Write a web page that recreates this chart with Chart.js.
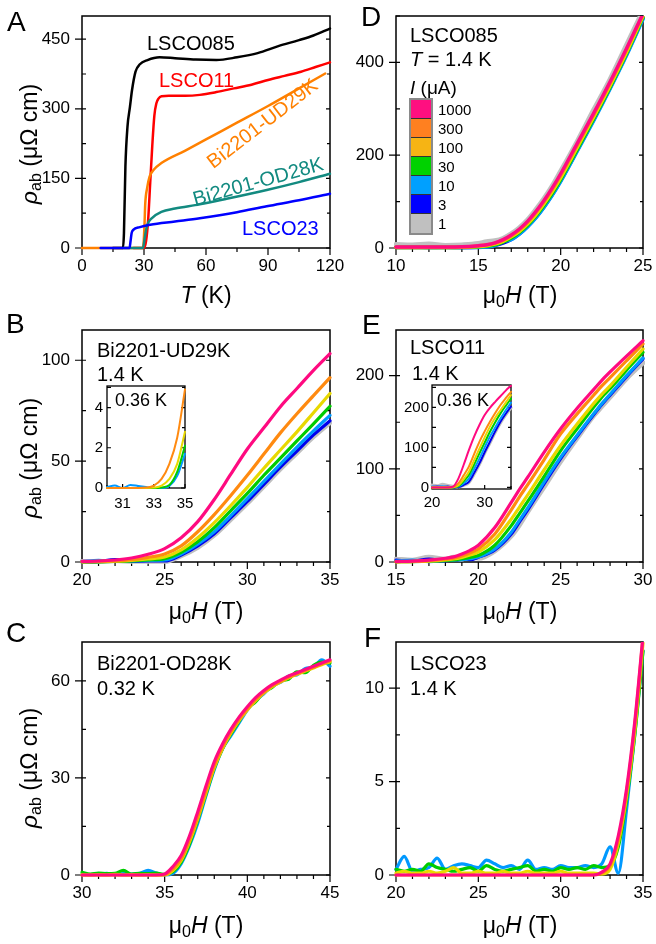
<!DOCTYPE html>
<html>
<head>
<meta charset="utf-8">
<script src="https://cdn.jsdelivr.net/npm/chart.js@4.4.1/dist/chart.umd.min.js"></script>
<style>
  body { margin: 0; background: #fff; }
  #fig { position: relative; width: 656px; height: 944px; overflow: hidden;
         font-family: "Liberation Sans", Arial, Helvetica, sans-serif; color: #000; }
  canvas { position: absolute; }
  .t { position: absolute; white-space: nowrap; line-height: 1; transform: translateY(-50%); font-size: 20px; }
  .c { position: absolute; white-space: nowrap; line-height: 1; transform: translate(-50%, -50%); }
  .xt { position: absolute; white-space: nowrap; line-height: 1; font-size: 23px; transform: translate(-50%, -50%); }
  .yt { position: absolute; white-space: nowrap; line-height: 1; font-size: 23px; transform: translate(-50%, -50%) rotate(-90deg); }
  .lt { position: absolute; line-height: 1; font-size: 28px; transform: translateY(-50%); }
  sub { font-size: 70%; vertical-align: -0.3em; line-height: 0; }
  #leg { position: absolute; left: 409px; top: 98px; border: 2px solid #8a8a8a; }
  .sw { width: 20px; height: 18px; border-bottom: 1px solid #333; }
  .sw:last-child { border-bottom: none; height: 19px; }
  #legl { position: absolute; left: 438px; top: 100px; font-size: 15px; line-height: 19px; }
</style>
</head>
<body>
<div id="fig">
  <canvas id="cA"></canvas><canvas id="cB"></canvas><canvas id="cC"></canvas>
  <canvas id="cD"></canvas><canvas id="cE"></canvas><canvas id="cF"></canvas>
  <canvas id="cBi"></canvas><canvas id="cEi"></canvas>

  <div class="lt" style="left:7px;top:22px">A</div>
  <div class="lt" style="left:6px;top:324px">B</div>
  <div class="lt" style="left:6px;top:633px">C</div>
  <div class="lt" style="left:361px;top:17px">D</div>
  <div class="lt" style="left:362px;top:325px">E</div>
  <div class="lt" style="left:364px;top:638px">F</div>

  <div class="t" style="left:147px;top:43px">LSCO085</div>
  <div class="t" style="left:159px;top:80px;color:#ff0000">LSCO11</div>
  <div class="c" style="left:262px;top:123px;font-size:20px;color:#ff8000;transform:translate(-50%,-50%) rotate(-37.5deg)">Bi2201-UD29K</div>
  <div class="c" style="left:258px;top:181px;font-size:20px;color:#128a80;transform:translate(-50%,-50%) rotate(-15.5deg)">Bi2201-OD28K</div>
  <div class="t" style="left:242px;top:228px;color:#0000ff">LSCO23</div>

  <div class="t" style="left:97px;top:350px">Bi2201-UD29K</div>
  <div class="t" style="left:97px;top:374px">1.4 K</div>
  <div class="t" style="left:115px;top:400px;font-size:18px">0.36 K</div>

  <div class="t" style="left:97px;top:663px">Bi2201-OD28K</div>
  <div class="t" style="left:97px;top:688px">0.32 K</div>

  <div class="t" style="left:410px;top:35px">LSCO085</div>
  <div class="t" style="left:410px;top:59px"><i>T</i> = 1.4 K</div>
  <div class="t" style="left:410px;top:87px;font-size:19px"><i>I</i> (μA)</div>
  <div id="leg"></div>
  <div id="legl"></div>

  <div class="t" style="left:410px;top:347px">LSCO11</div>
  <div class="t" style="left:412px;top:373px">1.4 K</div>
  <div class="t" style="left:437px;top:400px;font-size:18px">0.36 K</div>

  <div class="t" style="left:410px;top:663px">LSCO23</div>
  <div class="t" style="left:410px;top:688px">1.4 K</div>

  <div class="xt" style="left:206px;top:295px"><i>T</i> (K)</div>
  <div class="xt" style="left:520px;top:295px">μ<sub>0</sub><i>H</i> (T)</div>
  <div class="xt" style="left:206px;top:611px">μ<sub>0</sub><i>H</i> (T)</div>
  <div class="xt" style="left:520px;top:611px">μ<sub>0</sub><i>H</i> (T)</div>
  <div class="xt" style="left:206px;top:925px">μ<sub>0</sub><i>H</i> (T)</div>
  <div class="xt" style="left:520px;top:925px">μ<sub>0</sub><i>H</i> (T)</div>

  <div class="yt" style="left:29px;top:144px"><i>ρ</i><sub>ab</sub> (μΩ cm)</div>
  <div class="yt" style="left:29px;top:458px"><i>ρ</i><sub>ab</sub> (μΩ cm)</div>
  <div class="yt" style="left:29px;top:768px"><i>ρ</i><sub>ab</sub> (μΩ cm)</div>
</div>

<script>
// ---- panel A: rho_ab(T), zero field
const tempK085 = [15, 19.8, 20.3, 21, 22, 23.2, 24.2, 25.9, 28, 31.7, 37.5, 45, 55, 65, 75, 85, 95, 105, 112, 120];
const rhoK085  = [0, 0, 32, 175, 261, 304, 340, 380, 396, 405, 411, 409, 406, 405, 411, 420, 435, 448, 458, 473];
const tempK11  = [25, 30, 31, 32, 33, 34, 35, 36, 37, 38.5, 42, 50, 57, 65, 73.5, 82, 90, 98, 106, 113, 120];
const rhoK11   = [0, 0, 15, 60, 140, 220, 285, 312, 322, 327, 328, 328, 330, 336, 344, 352, 362, 371, 380, 390, 400];
const tempUD29 = [0, 29.3, 29.8, 30.2, 30.6, 31.5, 32.7, 34.6, 38.4, 50, 60, 75, 90, 105, 117.7];
const rhoUD29  = [0, 0, 10, 45, 95, 129, 154, 168, 183, 210, 234, 270, 306, 344, 376];
const tempOD28 = [20, 29.5, 30.3, 31, 31.8, 33.7, 38.4, 45, 57, 70, 89.4, 105, 120];
const rhoOD28  = [0, 0, 20, 39, 52, 64, 78, 85, 94, 106, 125, 142, 160];
const tempK23  = [9, 23, 23.5, 24, 24.8, 28, 33, 45, 57, 75, 89.4, 105, 120];
const rhoK23   = [0, 0, 15, 32, 39, 45, 50, 57, 64, 77, 90, 103, 117];

// currents (uA) for panels B-F
const currents = ['1000', '300', '100', '30', '10', '3', '1'];

// ---- panel B: Bi2201-UD29K, 1.4 K
const fieldB   = [20, 21, 22, 23, 24, 25, 26, 27, 28, 29, 30, 31, 32, 33, 34, 35];
const bI1000 = [0.3, 0.5, 1.0, 2.0, 3.8, 6.6, 12, 20, 31, 43.5, 56, 66.5, 77, 86, 95, 103.3];
const bI300  = [0.2, 0.3, 0.6, 1.2, 2.3, 4, 8, 15, 23.5, 33, 43, 53.5, 64, 73.5, 82.5, 91.4];
const bI100  = [0.1, 0.2, 0.4, 0.8, 1.5, 2.5, 6, 12, 19.5, 28, 37, 46.5, 55.5, 64.5, 74, 83.5];
const bI30   = [0, 0.1, 0.3, 0.6, 1.1, 1.7, 4.8, 10, 17, 25.5, 34, 43, 51.5, 60, 68.5, 77.2];
const bI10   = [0.2, 0.8, 0.3, 0.5, 0.8, 1, 4, 8.8, 15, 23, 31.4, 40, 48.5, 57, 65, 72.7];
const bI3    = [0, 0.2, 1.2, 0.3, 0.5, 0.5, 3.5, 8, 14, 22, 30, 38.5, 47, 55, 63, 70];
const bI1    = [0.4, 0.1, 0.6, 0.2, 0.3, 0.2, 3, 7.2, 13.2, 21, 29, 37.5, 46, 54, 62, 69];
// inset B: 0.36 K
const fieldBi = [30, 30.5, 31, 31.5, 32, 32.5, 33, 33.5, 34, 34.5, 35];
const biI300 = [0, 0, 0, 0, 0, 0.02, 0.12, 0.45, 1.2, 2.5, 4.9];
const biI100 = [0, 0, 0, 0, 0, 0, 0.02, 0.12, 0.45, 1.2, 2.8];
const biI30  = [0, 0, 0, 0, 0, 0, 0, 0.03, 0.15, 0.8, 2.1];
const biI10  = [0.05, 0.12, 0, 0.15, 0.1, 0.05, 0, 0, 0.1, 0.6, 1.7];

// ---- panel C: Bi2201-OD28K, 0.32 K
const fieldC = [30, 30.5, 31, 31.5, 32, 32.5, 33, 33.5, 34, 34.5, 35, 35.5, 36, 36.5, 37, 37.5, 38, 38.5, 39, 39.5, 40, 40.5, 41, 41.5, 42, 42.5, 43, 43.5, 44, 44.5, 45];
const cI1000 = [0, 0, 0, 0, 0, 0, 0, 0, 0, 0, 0.3, 2.6, 6, 12, 19.5, 27.5, 35, 40.5, 45, 48.8, 52, 54.8, 57, 58.8, 60.2, 61.5, 62.5, 63.5, 64.5, 65.5, 66.5];
const cI300  = [0, 0, 0, 0, 0, 0, 0, 0, 0, 0, 0.1, 1.8, 5, 10.8, 18, 26, 33.8, 39.6, 44.2, 48, 51.3, 54.2, 56.5, 58.4, 59.8, 61.1, 62.2, 63.2, 64.2, 65.2, 66.1];
const cI100  = [0.1, 0, 0.1, 0, 0.2, 0, 0.1, 0, 0.1, 0, 0, 1.4, 4.5, 10.2, 17.4, 25.4, 33.2, 39.1, 43.8, 47.7, 51, 53.9, 56.2, 58.2, 59.6, 60.9, 62, 63, 64, 65, 65.9];
const cI30   = [0.8, 0.3, 0.6, 0.4, 0.5, 1.4, 0.3, 0.5, 0.4, 0.6, 0.2, 1.0, 4, 9.5, 17, 25, 33, 39, 43.5, 47.5, 51.5, 53.5, 56.5, 58, 60, 60.5, 62.8, 62.5, 64.8, 65.8, 65.5];
const cI10   = [0.2, 0.1, 0.3, 0.5, 0.2, 0.4, 0.3, 0.5, 1.4, 0.6, 0, 0.5, 3.5, 9, 16, 24.5, 32.5, 39, 43, 47, 51, 54, 56, 58.5, 59.5, 61.5, 61.8, 63.8, 64.2, 66.5, 64.5];

// ---- panel D: LSCO085, 1.4 K
const fieldD = [10, 11, 12, 13, 14, 15, 15.5, 16, 16.5, 17, 17.5, 18, 18.5, 19, 19.5, 20, 21, 22, 23, 24, 25];
const dI1000 = [2, 2, 2, 2, 2.5, 5, 7, 11, 18, 28, 41, 58, 79, 103, 130, 160, 225, 290, 358, 430, 505];
const dI300  = [1.5, 1.5, 1.5, 1.5, 2, 4.5, 6.3, 10, 16.8, 26.5, 39.4, 56, 77, 100.5, 127.5, 157, 222, 287.5, 355.5, 428, 503];
const dI100  = [1, 1, 1, 1, 1.5, 3, 5, 8.5, 14.5, 24, 36, 52, 72, 96, 122, 151, 216, 282, 350, 422, 500];
const dI30   = [1, 1, 1, 1, 1.2, 2.5, 4, 7, 12.5, 21.5, 33.5, 49.5, 69, 92.5, 118.5, 147.5, 212, 278, 346.5, 419, 497];
const dI10   = [1.5, 2, 1, 1.5, 1, 1, 2, 5, 14, 18, 30, 46, 65, 88, 114, 143, 208, 274, 343, 415, 493];
const dI3    = [1, 1, 1, 1, 1, 1.5, 2.5, 5.5, 10.5, 18.5, 30.5, 46.5, 66, 89, 115, 144.5, 209.5, 276, 345, 417, 495];
const dI1    = [7, 6, 8, 5, 6, 9, 13, 15, 20, 30, 43, 60, 82, 106, 133, 164, 228, 296, 362, 436, 510];

// ---- panel E: LSCO11, 1.4 K
const fieldE = [15, 16, 17, 18, 18.5, 19, 19.5, 20, 21, 22, 22.5, 23, 24, 25, 26, 27, 27.5, 28, 29, 30];
const eI1000 = [0.5, 1, 2, 4, 5.5, 8.5, 12.5, 18, 37, 64, 78, 91, 118, 143, 165, 185, 195, 204, 221, 237.5];
const eI300  = [0.3, 0.7, 1.5, 3, 4.2, 6.5, 9.8, 14, 30, 56, 70, 83, 110, 137.5, 159, 179, 189, 198, 216, 234];
const eI100  = [0.2, 0.5, 1, 2.2, 3.2, 5, 7.5, 10.7, 24, 46, 59, 72, 99, 125, 148, 170, 180, 189, 209, 228.6];
const eI30   = [0.2, 0.4, 0.8, 1.6, 2.3, 3.5, 5, 7, 18, 39, 52, 65, 92, 119.6, 143, 166, 177, 186, 206, 225];
const eI10   = [1, 2, 0.5, 1.5, 2, 2.5, 3.5, 5.4, 14, 32, 45, 58, 86, 112.5, 136, 159, 170, 180, 200, 219];
const eI3    = [2, 1, 3, 1.5, 3, 4.5, 2.5, 5, 13, 30, 43, 56, 84, 111, 135, 158, 169, 179, 199, 218];
const eI1    = [3, 2, 5, 3, 5, 3, 8, 4, 12, 28, 40, 54, 81, 108, 133, 157, 167, 177, 197, 214];
// inset E: 0.36 K
const fieldEi = [20, 21, 22, 23, 24, 25, 26, 27, 28, 29, 30, 31, 32, 33, 34, 35];
const eiI1000 = [0, 0, 0, 0, 2, 22, 56, 93, 127, 156, 181, 199, 214, 228, 242, 254];
const eiI300  = [0, 0, 0, 0, 1, 10, 30, 52, 83, 114, 140, 164, 186, 206, 223, 239];
const eiI100  = [0, 0, 0, 0, 0.5, 5, 20, 39, 68, 97, 125, 152, 174, 193, 212, 231];
const eiI30   = [0, 0, 0, 0, 0.3, 3, 15, 31, 57, 85, 112, 139, 163, 185, 204, 222];
const eiI10   = [2, 1, 3, 1, 0.5, 2, 10, 22, 46, 72, 100, 127, 150, 172, 193, 212];
const eiI3    = [1, 2, 1, 2, 0.2, 1, 6, 14, 36, 60, 88, 114, 140, 164, 184, 202];
const eiI1    = [6, 4, 8, 5, 3, 1, 5, 12, 33, 57, 85, 111, 137, 161, 181, 199];

// ---- panel F: LSCO23, 1.4 K
const fieldF = [20, 20.5, 21, 21.5, 22, 22.5, 23, 23.5, 24, 24.5, 25, 25.5, 26, 26.5, 27, 27.5, 28, 28.5, 29, 29.5, 30, 30.5, 31, 31.5, 32, 32.5, 33, 33.5, 34, 34.5, 35];
const fI1000 = [0, 0, 0, 0, 0, 0, 0, 0, 0, 0, 0, 0, 0, 0, 0, 0, 0, 0, 0, 0, 0, 0, 0, 0, 0, 0.15, 0.6, 2.1, 4.6, 8.2, 12.8];
const fI300  = [0, 0, 0, 0, 0, 0, 0, 0, 0, 0, 0, 0, 0, 0, 0, 0, 0, 0, 0, 0, 0, 0, 0, 0, 0, 0.1, 0.5, 1.9, 4.4, 8, 12.7];
const fI100  = [0.1, 0.2, 0.1, 0.1, 0.2, 0.1, 0.2, 0.4, 0.1, 0.1, 0.2, 0.1, 0.1, 0.2, 0.1, 0.1, 0.2, 0.1, 0.1, 0.1, 0.2, 0.1, 0.1, 0.1, 0.1, 0.05, 0.3, 1.7, 4.2, 7.7, 12.4];
const fI30   = [0.3, 0.2, 0.3, 0.2, 0.6, 0.4, 0.3, 0.2, 0.3, 0.4, 0.2, 0.5, 0.3, 0.2, 0.3, 0.4, 0.5, 0.2, 0.3, 0.2, 0.4, 0.3, 0.4, 0.3, 0.5, 0.4, 0.5, 1.5, 4.0, 7.5, 12];
const fI10   = [0.3, 1.0, 0.2, 0.3, 0.4, 0.9, 0.3, 0.5, 0.6, 0.5, 0.4, 0.8, 0.6, 0.4, 0.5, 0.3, 0.8, 0.3, 0.4, 0.3, 0.5, 0.4, 0.4, 0.5, 0.4, 0.6, 1.5, 0.1, 3.5, 7.5, 12];

// tick labels
const ticksA = {x: [0, 30, 60, 90, 120], y: [0, 150, 300, 450]};
const ticksB = {x: [20, 25, 30, 35], y: [0, 50, 100]};
const ticksBi = {x: [31, 33, 35], y: [0, 2, 4]};
const ticksC = {x: [30, 35, 40, 45], y: [0, 30, 60]};
const ticksD = {x: [10, 15, 20, 25], y: [0, 200, 400]};
const ticksE = {x: [15, 20, 25, 30], y: [0, 100, 200]};
const ticksEi = {x: [20, 30], y: [0, 100, 200]};
const ticksF = {x: [20, 25, 30, 35], y: [0, 5, 10]};

// colours per current, same order as currents
const curColor = ['#ff0a80', '#ff8a10', '#e8d800', '#00cc00', '#0099ff', '#0000ee', '#c0c0c0'];
const swatchColor = ['#ff0f80', '#ff8020', '#f6b414', '#00d200', '#00a0ff', '#0000ff', '#c0c0c0'];

Chart.defaults.font.family = '"Liberation Sans", Arial, Helvetica, sans-serif';
Chart.defaults.color = '#000';

// frame, outer major ticks, minor ticks
const frame = {
  id: 'frame',
  beforeDraw(chart, args, o) {
    if (!o.inset) return;
    const a = chart.chartArea;
    chart.ctx.save();
    chart.ctx.fillStyle = '#fff';
    chart.ctx.fillRect(a.left, a.top, a.right - a.left, a.bottom - a.top);
    chart.ctx.restore();
  },
  beforeDatasetsDraw(chart, args, o) {
    const {ctx, chartArea: a, scales: {x, y}} = chart;
    const mj = o.inset ? -4 : 7;
    const mx = o.inset ? -3 : 4;
    ctx.save();
    ctx.strokeStyle = '#000';
    ctx.lineWidth = 1.2;
    ctx.beginPath();
    x.ticks.forEach(t => {
      const p = x.getPixelForValue(t.value);
      ctx.moveTo(p, a.bottom); ctx.lineTo(p, a.bottom + mj);
    });
    y.ticks.forEach(t => {
      const p = y.getPixelForValue(t.value);
      ctx.moveTo(a.left, p); ctx.lineTo(a.left - mj, p);
      ctx.moveTo(a.right, p); ctx.lineTo(a.right - 4, p);
    });
    for (let k = Math.ceil(x.min / o.xMinor - 1e-6); k * o.xMinor <= x.max + 1e-6; k++) {
      const p = x.getPixelForValue(k * o.xMinor);
      ctx.moveTo(p, a.bottom); ctx.lineTo(p, a.bottom + mx);
    }
    for (let k = Math.ceil(y.min / o.yMinor - 1e-6); k * o.yMinor <= y.max + 1e-6; k++) {
      const p = y.getPixelForValue(k * o.yMinor);
      ctx.moveTo(a.left, p); ctx.lineTo(a.left + 4, p);
      ctx.moveTo(a.right, p); ctx.lineTo(a.right - 3, p);
    }
    ctx.stroke();
    ctx.lineWidth = o.inset ? 1.3 : 1.5;
    ctx.strokeRect(a.left, a.top, a.right - a.left, a.bottom - a.top);
    ctx.restore();
  }
};

function line(xs, ys, color, width) {
  return {
    data: xs.map((x, i) => ({x: x, y: ys[i]})),
    borderColor: color, borderWidth: width, pointRadius: 0, fill: false,
    cubicInterpolationMode: 'monotone', borderCapStyle: 'round', borderJoinStyle: 'round',
    clip: {left: 2, top: 0, right: 2, bottom: 3}
  };
}

function axis(min, max, ticks, pad, size, fit) {
  return {
    type: 'linear', min: min, max: max,
    afterBuildTicks: s => { s.ticks = ticks.map(v => ({value: v})); },
    afterFit: fit,
    ticks: {autoSkip: false, maxRotation: 0, padding: pad, font: {size: size}, color: '#000', callback: v => String(v)},
    grid: {display: false, drawTicks: false},
    border: {display: false}
  };
}

function panel(id, box, xr, yr, ticks, minor, datasets, inset) {
  const [L, T, R, B] = box;
  const yW = inset ? 34 : 62, xH = inset ? 30 : 44, pT = inset ? 20 : 28, pR = inset ? 20 : 26;
  const cv = document.getElementById(id);
  cv.width = yW + (R - L) + pR;
  cv.height = pT + (B - T) + xH;
  cv.style.left = (L - yW) + 'px';
  cv.style.top = (T - pT) + 'px';
  const fs = inset ? 15 : 17;
  new Chart(cv, {
    type: 'line',
    data: {datasets: datasets},
    options: {
      responsive: false, animation: false, devicePixelRatio: 1,
      layout: {padding: {left: 0, top: pT, right: pR, bottom: 0}},
      scales: {
        x: axis(xr[0], xr[1], ticks.x, inset.xPad || 8, fs, s => { s.height = xH; }),
        y: axis(yr[0], yr[1], ticks.y, inset.yPad || 12, fs, s => { s.width = yW; })
      },
      plugins: {legend: {display: false}, tooltip: {enabled: false},
        frame: {xMinor: minor[0], yMinor: minor[1], inset: !!inset}}
    },
    plugins: [frame]
  });
}

function currentSet(xs, rows, width, grayWidth) {
  const out = [];
  rows.forEach((ys, i) => {
    if (ys) out.push(line(xs, ys, curColor[i], curColor[i] === '#c0c0c0' ? grayWidth : width));
  });
  return out;
}

panel('cA', [82, 16, 330, 248], [0, 120], [0, 500], ticksA, [15, 75], [
  line(tempK23, rhoK23, '#0000ff', 2.5),
  line(tempOD28, rhoOD28, '#128a80', 2.5),
  line(tempK085, rhoK085, '#000000', 2.5),
  line(tempUD29, rhoUD29, '#ff8000', 2.5),
  line(tempK11, rhoK11, '#ff0000', 2.5)
], false);

panel('cB', [82, 330, 330, 562], [20, 35], [0, 115], ticksB, [1, 25],
  currentSet(fieldB, [bI1000, bI300, bI100, bI30, bI10, bI3, bI1], 3.2, 4.5), false);

panel('cC', [82, 642, 330, 875], [30, 45], [0, 72], ticksC, [1, 15],
  currentSet(fieldC, [cI1000, cI300, cI100, cI30, cI10], 3.2, 4), false);

panel('cD', [396, 16, 643, 248], [10, 25], [0, 500], ticksD, [1, 100],
  currentSet(fieldD, [dI1000, dI300, dI100, dI30, dI10, dI3, dI1], 3.5, 5.5), false);

panel('cE', [396, 330, 643, 562], [15, 30], [0, 249], ticksE, [1, 50],
  currentSet(fieldE, [eI1000, eI300, eI100, eI30, eI10, eI3, eI1], 3.2, 5), false);

panel('cF', [396, 642, 643, 875], [20, 35], [0, 12.47], ticksF, [1, 2.5],
  currentSet(fieldF, [fI1000, fI300, fI100, fI30, fI10], 3.2, 4), false);

panel('cBi', [107, 386, 185, 488], [30, 35], [0, 5.07], ticksBi, [1, 1],
  currentSet(fieldBi, [null, biI300, biI100, biI30, biI10], 2, 2), {xPad: 6.5, yPad: 4});

panel('cEi', [432, 385, 511, 489], [20, 35], [-4, 256], ticksEi, [5, 50],
  currentSet(fieldEi, [eiI1000, eiI300, eiI100, eiI30, eiI10, eiI3, eiI1], 2, 3), {xPad: 5, yPad: 3});

// current legend in panel D
const leg = document.getElementById('leg');
const legl = document.getElementById('legl');
currents.forEach((c, i) => {
  const s = document.createElement('div');
  s.className = 'sw';
  s.style.background = swatchColor[i];
  leg.appendChild(s);
  const t = document.createElement('div');
  t.textContent = c;
  legl.appendChild(t);
});
</script>
</body>
</html>
